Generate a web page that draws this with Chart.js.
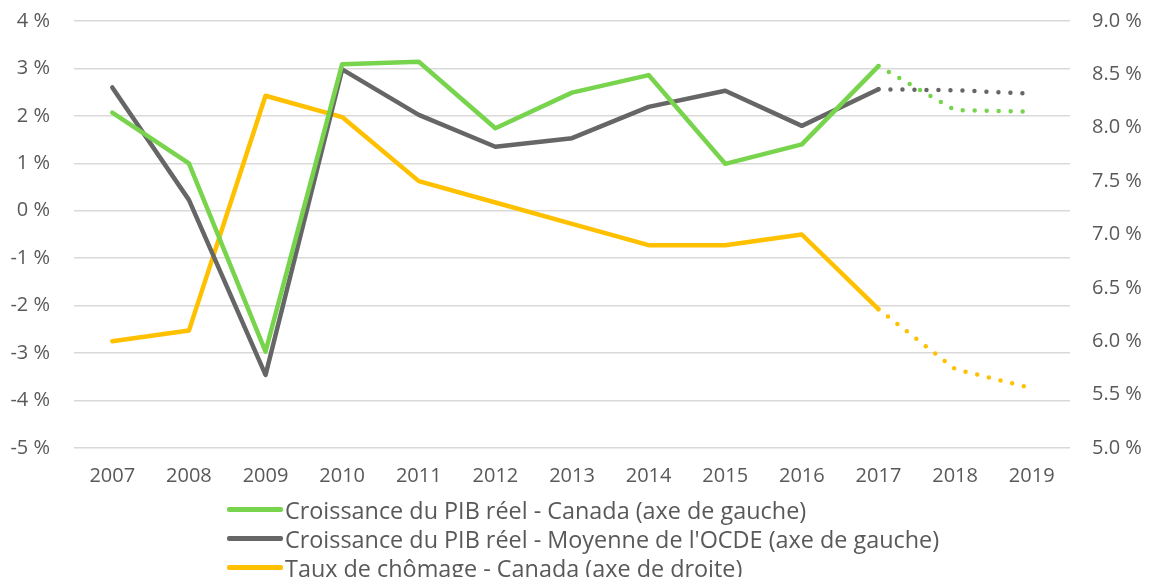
<!DOCTYPE html>
<html>
<head>
<meta charset="utf-8">
<script src="https://cdn.jsdelivr.net/npm/chart.js@4.4.1/dist/chart.umd.min.js"></script>
<style>
  html, body { margin: 0; padding: 0; background: #fff; overflow: hidden; }
  #wrap { position: relative; width: 1150px; height: 577px; }
  #legend { position: absolute; left: 227px; top: 495px; font-family: "Open Sans", Lato, sans-serif; font-size: 23.4px; color: #595959; }
  .row { display: flex; align-items: center; height: 29px; white-space: nowrap; }
  .sw { width: 56px; height: 4.5px; border-radius: 2px; margin-right: 2px; }
</style>
</head>
<body>
<div id="wrap">
  <canvas id="c" width="1150" height="577"></canvas>
  <div id="legend"></div>
</div>
<script>
const categories = ['2007','2008','2009','2010','2011','2012','2013','2014','2015','2016','2017','2018','2019'];
const gdpCanada = [2.07, 1.00, -2.97, 3.09, 3.14, 1.74, 2.49, 2.86, 0.99, 1.40, 3.05, 2.12, 2.09];
const gdpOECD   = [2.60, 0.23, -3.46, 2.98, 2.02, 1.35, 1.53, 2.19, 2.53, 1.79, 2.56, 2.54, 2.47];
const unemploymentCanada = [6.0, 6.1, 8.3, 8.1, 7.5, 7.3, 7.1, 6.9, 6.9, 7.0, 6.3, 5.74, 5.56];
const seriesLabels = [
  "Croissance du PIB réel - Canada (axe de gauche)",
  "Croissance du PIB réel - Moyenne de l'OCDE (axe de gauche)",
  "Taux de chômage - Canada (axe de droite)"
];
const seriesColors = ['#77D44C', '#666666', '#FFC000'];
const projectionStart = 10; // index of 2017: segments after it are projections (dotted)

const dotted = ctx => ctx.p0DataIndex >= projectionStart ? [0, 12] : undefined;

function mk(label, data, color, axis) {
  return {
    label, data, yAxisID: axis,
    borderColor: color, backgroundColor: color,
    borderWidth: 4.5, pointRadius: 0, tension: 0,
    borderCapStyle: 'round', borderJoinStyle: 'round',
    segment: { borderDash: dotted }
  };
}

const tickFont = { family: '"Open Sans", Lato, sans-serif', size: 20 };
const tickColor = '#595959';
const noPad = s => { s.paddingTop = 0; s.paddingBottom = 0; s.paddingLeft = 0; s.paddingRight = 0; };

new Chart(document.getElementById('c'), {
  type: 'line',
  data: {
    labels: categories,
    datasets: [
      mk(seriesLabels[0], gdpCanada, seriesColors[0], 'y'),
      mk(seriesLabels[1], gdpOECD, seriesColors[1], 'y'),
      mk(seriesLabels[2], unemploymentCanada, seriesColors[2], 'y1')
    ]
  },
  options: {
    responsive: false,
    animation: false,
    devicePixelRatio: 1,
    layout: { padding: { top: 21, bottom: 83, left: 0, right: 0 } },
    plugins: { legend: { display: false }, title: { display: false }, tooltip: { enabled: false } },
    scales: {
      x: {
        offset: true,
        grid: { display: false, drawTicks: false },
        border: { display: false },
        ticks: { font: tickFont, color: tickColor, padding: 16, maxRotation: 0 },
        afterFit: s => { s.height = 46; noPad(s); }
      },
      y: {
        position: 'left', min: -5, max: 4,
        ticks: { stepSize: 1, font: tickFont, color: tickColor, padding: 24, callback: v => v + ' %' },
        grid: { color: '#D9D9D9', lineWidth: 1.5, drawTicks: false },
        border: { display: false },
        afterFit: s => { s.width = 74; noPad(s); }
      },
      y1: {
        position: 'right', min: 5, max: 9,
        ticks: { stepSize: 0.5, font: tickFont, color: tickColor, padding: 22, callback: v => v.toFixed(1) + ' %' },
        grid: { display: false, drawTicks: false },
        border: { display: false },
        afterFit: s => { s.width = 80; noPad(s); }
      }
    }
  }
});

const legend = document.getElementById('legend');
seriesLabels.forEach((l, i) => {
  const row = document.createElement('div');
  row.className = 'row';
  const sw = document.createElement('span');
  sw.className = 'sw';
  sw.style.background = seriesColors[i];
  const t = document.createElement('span');
  t.textContent = l;
  row.appendChild(sw); row.appendChild(t);
  legend.appendChild(row);
});
</script>
</body>
</html>
